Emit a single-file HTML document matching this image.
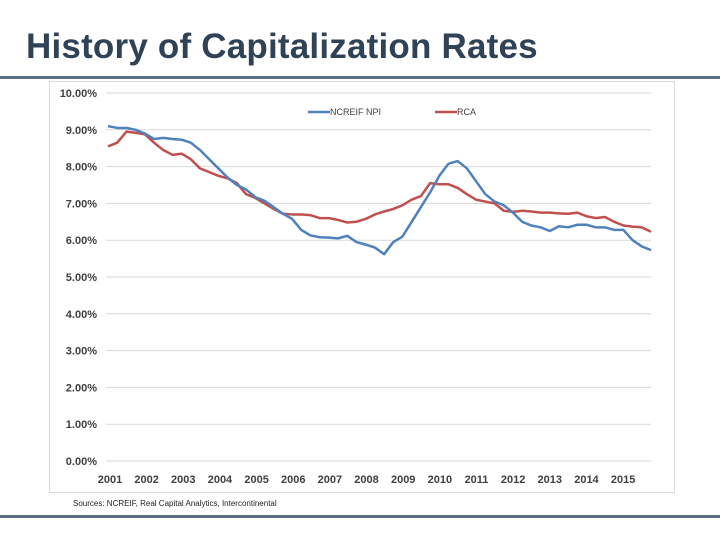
<!DOCTYPE html>
<html><head><meta charset="utf-8"><style>
body{margin:0;width:720px;height:540px;background:#fff;overflow:hidden;font-family:"Liberation Sans",sans-serif;position:relative}
#title{position:absolute;left:26px;top:27px;font-size:35px;font-weight:bold;color:#2f4256;margin:0;letter-spacing:0.2px}
.bar{position:absolute;left:0;width:720px;height:3px;background:#5a6e84}
#src{position:absolute;left:73px;top:499px;font-size:8px;color:#222}
</style></head><body>
<h1 id="title">History of Capitalization Rates</h1>
<div class="bar" style="top:76px"></div>
<div class="bar" style="top:515px"></div>
<svg id="chart" width="720" height="540" style="position:absolute;left:0;top:0"></svg>
<div id="src">Sources: NCREIF, Real Capital Analytics, Intercontinental</div>
<script>
const years=[2001,2002,2003,2004,2005,2006,2007,2008,2009,2010,2011,2012,2013,2014,2015];
const yTicks=[0,1,2,3,4,5,6,7,8,9,10];
const ncreif=[9.1,9.05,9.05,9.0,8.9,8.75,8.78,8.75,8.73,8.65,8.45,8.2,7.95,7.7,7.5,7.38,7.17,7.07,6.9,6.72,6.58,6.28,6.13,6.08,6.07,6.05,6.12,5.95,5.88,5.8,5.62,5.95,6.1,6.5,6.9,7.3,7.75,8.08,8.15,7.95,7.6,7.25,7.05,6.95,6.75,6.5,6.4,6.35,6.25,6.38,6.35,6.42,6.42,6.35,6.35,6.28,6.28,6.0,5.83,5.73];
const rca=[8.55,8.65,8.95,8.92,8.88,8.65,8.45,8.32,8.35,8.2,7.95,7.85,7.75,7.68,7.55,7.25,7.15,7.0,6.85,6.72,6.7,6.7,6.68,6.6,6.6,6.55,6.48,6.5,6.58,6.7,6.78,6.85,6.95,7.1,7.2,7.55,7.52,7.52,7.42,7.25,7.1,7.05,7.0,6.8,6.77,6.8,6.78,6.75,6.75,6.73,6.72,6.75,6.65,6.6,6.63,6.5,6.4,6.37,6.35,6.23];
const svg=document.getElementById('chart');const NS='http://www.w3.org/2000/svg';
function mk(t,a,p){const e=document.createElementNS(NS,t);for(const k in a)e.setAttribute(k,a[k]);(p||svg).appendChild(e);return e;}
const X0=108,X1=651,Y0=461,Y10=93;
const yS=v=>Y0-(v/10)*(Y0-Y10);
const xS=i=>X0+i*(X1-X0)/(ncreif.length-1);
const frame=mk('rect',{x:49.5,y:81.5,width:625,height:411,fill:'#fff',stroke:'#d9d9d9'});


yTicks.forEach(t=>{
 if(t>0){const g=mk('line',{x1:106,x2:651,y1:yS(t),y2:yS(t),stroke:'#d9d9d9','stroke-width':1});
 
 }
 const l=mk('text',{x:97,y:yS(t)+4,'text-anchor':'end','font-size':11,'font-weight':'bold',fill:'#404040'});
 l.textContent=t.toFixed(2)+'%';
 
 
});
const ax=mk('line',{x1:106,x2:651,y1:Y0,y2:Y0,stroke:'#d9d9d9'});


years.forEach((y,i)=>{
 const l=mk('text',{x:110+i*36.65,y:483,'text-anchor':'middle','font-size':11,'font-weight':'bold',fill:'#404040'});
 l.textContent=y;
 
 
});
function line(d,c,n){const p=mk('polyline',{points:d.map((v,i)=>xS(i)+','+yS(v)).join(' '),fill:'none',stroke:c,'stroke-width':2.5,'stroke-linejoin':'round'});
 
 }
line(rca,'#c0504d','rca-series');
line(ncreif,'#4f81bd','ncreif-series');
[['NCREIF NPI','#4f81bd',308],['RCA','#c0504d',435]].forEach(([t,c,x])=>{
 const g=mk('g',{});
 
 
 mk('line',{x1:x,x2:x+22,y1:112,y2:112,stroke:c,'stroke-width':2.5},g);
 const tx=mk('text',{x:x+22,y:115,'font-size':9,fill:'#404040'},g);tx.textContent=t;
});
</script>
</body></html>
